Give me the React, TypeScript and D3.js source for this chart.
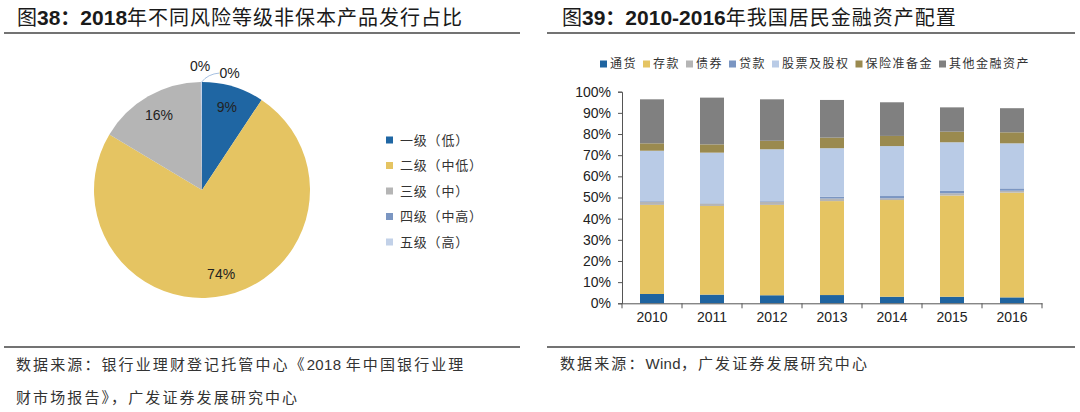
import React, { useEffect, useRef } from 'react';
import * as d3 from 'd3';

// 图38 数据：风险等级占比（%）
const riskLevels = ['一级（低）', '二级（中低）', '三级（中）', '四级（中高）', '五级（高）'];
const riskShares = [9.3, 74.3, 16.2, 0.1, 0.1];
const riskColors = ['#1f66a3', '#e5c462', '#b5b5b5', '#7b96c2', '#c2d1e8'];

// 图39 数据：居民金融资产配置（%）
const years = ['2010', '2011', '2012', '2013', '2014', '2015', '2016'];
const assetTypes = ['通货', '存款', '债券', '贷款', '股票及股权', '保险准备金', '其他金融资产'];
const assetColors = ['#1f64a0', '#e5c462', '#b5b5b5', '#7b96c2', '#b9cbe6', '#9a8a4f', '#808080'];
const cash = [4.4, 4.1, 3.8, 3.9, 3.1, 3.1, 2.8];
const deposits = [42.1, 41.9, 42.7, 44.4, 45.7, 47.8, 49.5];
const bonds = [1.5, 1.1, 1.5, 1.2, 0.8, 1.1, 0.9];
const loans = [0.3, 0.2, 0.3, 0.9, 1.1, 1.1, 1.1];
const equities = [23.8, 23.9, 24.5, 22.9, 23.6, 23.0, 21.3];
const insurance = [3.5, 3.9, 4.0, 5.0, 4.8, 5.0, 5.2];
const others = [20.8, 22.1, 19.6, 17.8, 15.9, 11.5, 11.4];
const yTicks = [0, 10, 20, 30, 40, 50, 60, 70, 80, 90, 100];

const CJK = '"Noto Sans CJK SC", sans-serif';
const LATIN = '"Liberation Sans", Arial, sans-serif';

export default function App() {
  const ref = useRef<SVGSVGElement>(null);

  useEffect(() => {
    if (!ref.current) return;
    const svg = d3.select(ref.current);
    svg.selectAll('*').remove();

    // ---------- 标题与分隔线 ----------
    const title = (x: number, num: string, bold: string, rest: string) => {
      const t = svg.append('text').attr('x', x).attr('y', 25)
        .attr('font-size', 20).attr('fill', '#1a1a1a').style('font-family', CJK);
      t.append('tspan').text('图');
      t.append('tspan').attr('font-weight', 'bold').attr('font-size', 21).style('font-family', LATIN).text(num);
      t.append('tspan').attr('font-weight', 'bold').text('：');
      t.append('tspan').attr('font-weight', 'bold').attr('font-size', 21).style('font-family', LATIN).text(bold);
      t.append('tspan').attr('letter-spacing', 1).text(rest);
    };
    title(17, '38', '2018', '年不同风险等级非保本产品发行占比');
    title(562, '39', '2010-2016', '年我国居民金融资产配置');

    const rule = (x1: number, x2: number, y: number) =>
      svg.append('line').attr('x1', x1).attr('x2', x2).attr('y1', y).attr('y2', y)
        .attr('stroke', '#444').attr('stroke-width', 1.3);
    rule(4, 520, 33);
    rule(547, 1075, 33);
    rule(4, 520, 347);
    rule(547, 1075, 347);

    // 来源文字：中文加字距，西文不加
    const source = (x: number, y: number, parts: string[]) => {
      const t = svg.append('text').attr('x', x).attr('y', y).attr('font-size', 15)
        .attr('fill', '#333').style('font-family', CJK);
      parts.forEach((s, i) => {
        const sp = t.append('tspan').text(s);
        if (i % 2 === 1) sp.style('font-family', LATIN).attr('letter-spacing', 0.3);
        else sp.attr('letter-spacing', 2.1);
      });
    };
    source(16, 370, ['数据来源：银行业理财登记托管中心《', '2018 ', '年中国银行业理']);
    source(16, 403, ['财市场报告》，广发证券发展研究中心']);
    source(560, 369, ['数据来源：', 'Wind', '，广发证券发展研究中心']);

    // ---------- 饼图 ----------
    const cx = 202, cy = 190, r = 108;
    const pieData = d3.pie<number>().sort(null).value(d => d)(riskShares);
    const arc = d3.arc<d3.PieArcDatum<number>>().innerRadius(0).outerRadius(r);
    const labelArc = d3.arc<d3.PieArcDatum<number>>().innerRadius(r * 0.8).outerRadius(r * 0.8);
    const pg = svg.append('g').attr('transform', `translate(${cx},${cy})`);
    pg.selectAll('path').data(pieData).join('path')
      .attr('d', arc).attr('fill', (_, i) => riskColors[i]);

    const fmt = (v: number) => `${Math.round(v)}%`;
    pieData.forEach((d, i) => {
      const t = pg.append('text').attr('text-anchor', 'middle').attr('dy', '0.35em')
        .attr('font-size', 14).attr('fill', '#222').style('font-family', LATIN).text(fmt(d.data));
      if (d.data >= 1) {
        const [lx, ly] = labelArc.centroid(d);
        t.attr('x', lx).attr('y', ly);
      } else {
        const a = (d.startAngle + d.endAngle) / 2;
        const ex = Math.sin(a) * r, ey = -Math.cos(a) * r;
        if (i === riskShares.length - 2) {
          t.attr('x', ex - 1).attr('y', ey - 16);
        } else {
          const lx = ex + 26, ly = ey - 9;
          pg.append('path').attr('d', `M${ex},${ey} Q${ex + 6},${ey - 8} ${lx - 8},${ly}`)
            .attr('fill', 'none').attr('stroke', '#8fb0d8').attr('stroke-width', 0.8);
          t.attr('x', lx + 2).attr('y', ly);
        }
      }
    });

    const lg = svg.append('g').attr('transform', 'translate(386,140)');
    riskLevels.forEach((name, i) => {
      const g = lg.append('g').attr('transform', `translate(0,${i * 25.5})`);
      g.append('rect').attr('x', 0).attr('y', -3.5).attr('width', 7).attr('height', 7).attr('fill', riskColors[i]);
      g.append('text').attr('x', 14).attr('dy', '0.35em').attr('font-size', 13)
        .attr('letter-spacing', 0.8).attr('fill', '#333').style('font-family', CJK).text(name);
    });

    // ---------- 堆积柱状图 ----------
    const series = [cash, deposits, bonds, loans, equities, insurance, others];
    const rows = years.map((y, i) => {
      const row: Record<string, number | string> = { year: y };
      assetTypes.forEach((k, j) => { row[k] = series[j][i] / 100; });
      return row;
    });
    const stack = d3.stack<any>().keys(assetTypes)(rows);

    const x = d3.scaleBand().domain(years).range([622, 1042]).paddingInner(0.6).paddingOuter(0.3);
    const y = d3.scaleLinear().domain([0, 1]).range([303.3, 91.7]);

    svg.append('g').selectAll('g').data(stack).join('g')
      .attr('fill', (_, i) => assetColors[i])
      .selectAll('rect').data(d => d).join('rect')
      .attr('x', d => x(d.data.year as string)!)
      .attr('width', x.bandwidth())
      .attr('y', d => y(d[1]))
      .attr('height', d => y(d[0]) - y(d[1]));

    const yAxis = svg.append('g').attr('transform', 'translate(622,0)')
      .call(d3.axisLeft(y).tickValues(yTicks.map(v => v / 100)).tickFormat(d3.format('.0%')).tickSize(4).tickPadding(7));
    yAxis.select('.domain').attr('stroke', '#555');
    yAxis.selectAll('.tick line').attr('stroke', '#555');
    yAxis.selectAll('text').attr('font-size', 14).attr('fill', '#222').style('font-family', LATIN);

    const xAxis = svg.append('g').attr('transform', 'translate(0,303.3)')
      .call(d3.axisBottom(x).tickSize(0).tickPadding(9));
    xAxis.select('.domain').attr('stroke', '#555');
    xAxis.selectAll('text').attr('font-size', 14).attr('fill', '#222').style('font-family', LATIN);
    const step = x.step();
    years.concat(['']).forEach((_, i) => {
      const tx = 622 + i * step;
      xAxis.append('line').attr('x1', tx).attr('x2', tx).attr('y1', 0).attr('y2', 5).attr('stroke', '#555');
    });

    const bl = svg.append('g').attr('transform', 'translate(600,64)');
    let lx = 0;
    assetTypes.forEach((name, i) => {
      bl.append('rect').attr('x', lx).attr('y', -3.5).attr('width', 7).attr('height', 7).attr('fill', assetColors[i]);
      bl.append('text').attr('x', lx + 10).attr('dy', '0.35em').attr('font-size', 12)
        .attr('letter-spacing', 1.5).attr('fill', '#333').style('font-family', CJK).text(name);
      lx += 16 + name.length * 13.5;
    });
  }, []);

  return (
    <div style={{ position: 'absolute', left: 0, top: 0 }}>
      <svg ref={ref} width={1080} height={412} style={{ display: 'block', background: '#fff' }} />
    </div>
  );
}
